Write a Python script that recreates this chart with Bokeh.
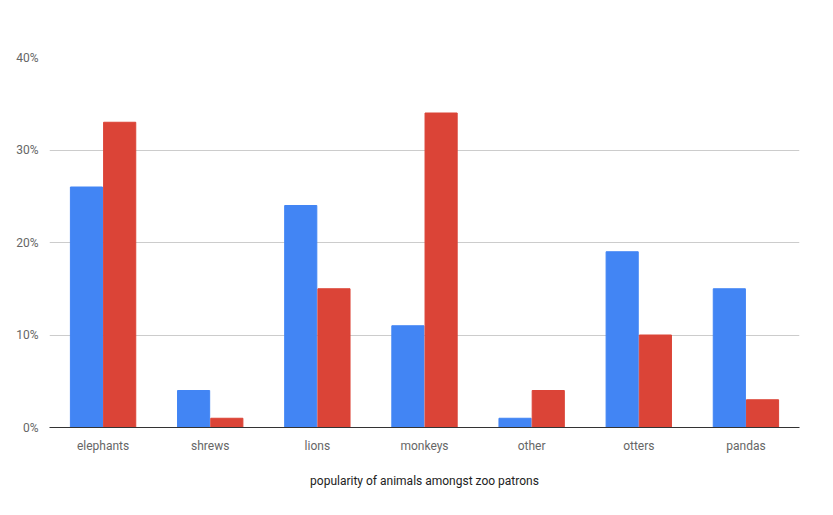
from bokeh.plotting import figure
from bokeh.models import ColumnDataSource, NumeralTickFormatter, Legend, LegendItem, FixedTicker
from bokeh.transform import dodge
from bokeh.embed import file_html
from bokeh.resources import INLINE

animals = ["elephants", "shrews", "lions", "monkeys", "other", "otters", "pandas"]
cincinnati = [0.26, 0.04, 0.24, 0.11, 0.01, 0.19, 0.15]
san_diego = [0.33, 0.01, 0.15, 0.34, 0.04, 0.10, 0.03]

src = ColumnDataSource(dict(a=animals, c=cincinnati, s=san_diego))

p = figure(x_range=animals, y_range=(0, 0.4), width=817, height=499,
           output_backend="svg", toolbar_location=None,
           min_border_left=49, min_border_right=18, min_border_bottom=72, min_border_top=57)
r1 = p.vbar(x=dodge("a", -0.155, range=p.x_range), top="c", width=0.3, source=src, color="#4285f4")
r2 = p.vbar(x=dodge("a", 0.155, range=p.x_range), top="s", width=0.3, source=src, color="#db4437")

p.yaxis.ticker = FixedTicker(ticks=[0, 0.1, 0.2, 0.3, 0.4])
p.yaxis.formatter = NumeralTickFormatter(format="0%")
p.yaxis.axis_line_color = None
p.yaxis.major_tick_line_color = None
p.yaxis.minor_tick_line_color = None
p.xaxis.major_tick_line_color = None
p.xaxis.axis_line_color = "#333333"
p.xgrid.grid_line_color = None
p.ygrid.grid_line_color = "#cccccc"
p.outline_line_color = None
for ax in (p.xaxis, p.yaxis):
    ax.major_label_text_font = "Roboto"
    ax.major_label_text_font_size = "12px"
    ax.major_label_text_color = "#666666"
p.xaxis.axis_label = "popularity of animals amongst zoo patrons"
p.xaxis.axis_label_text_font = "Roboto"
p.xaxis.axis_label_text_font_style = "normal"
p.xaxis.axis_label_text_font_size = "12px"
p.xaxis.axis_label_text_color = "#222222"
p.xaxis.axis_label_standoff = 18

legend = Legend(items=[LegendItem(label="Cincinatti Zoo", renderers=[r1]),
                       LegendItem(label="San Diego Zoo", renderers=[r2])],
                orientation="horizontal", location=(248, 384),
                label_text_font="Roboto", label_text_font_size="12px",
                label_text_color="#222222", border_line_color=None,
                background_fill_alpha=0,
                glyph_width=12, glyph_height=12, spacing=14, margin=0, padding=2)
p.add_layout(legend, "center")

open("out.html", "w").write(file_html(p, INLINE))
